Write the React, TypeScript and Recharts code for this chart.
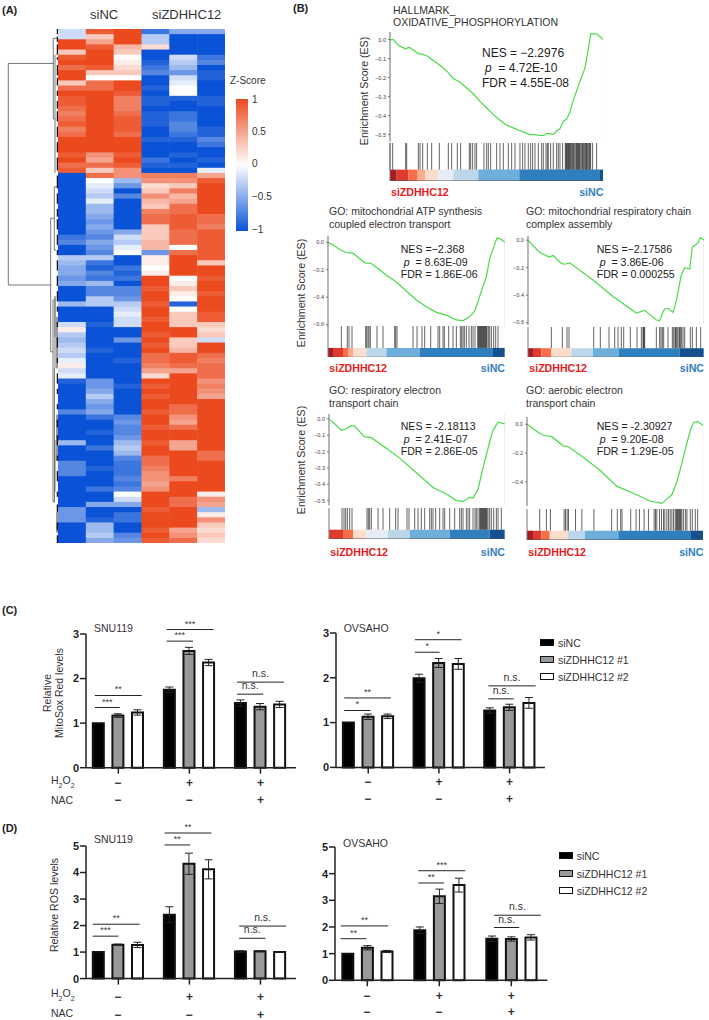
import { BarChart, Bar, XAxis, YAxis, ErrorBar, ReferenceLine, ReferenceArea, LineChart, Line, CartesianGrid } from "recharts";

const FONT = '"Liberation Sans", Arial, sans-serif';

// ---------- (A) heatmap, z-score x 10, top row first ----------
const heatNC1 = [-2,-2,10,10,3,9,10,8,10,10,3,8,10,9,9,8,7,8,9,7,8,10,10,10,9,10,8,9,
  -10,-10,-10,-10,-10,-10,-10,-10,-10,-10,-10,-10,-8,-7,-10,-10,-3,-4,-5,-5,-6,-5,-10,-10,-10,-4,-10,-10,-10,-2,1,-3,-4,-3,-2,-3,-1,1,-2,-1,-9,-10,-10,-10,-10,-10,-7,-10,-10,-10,-10,-10,-4,-10,-10,-10,-7,-7,-7,-10,-10,-10,-10,-10,-10,-6,-6,-6,-10,-10,-10,-10];
const heatNC2 = [9,3,5,9,10,10,10,9,3,0,8,8,10,10,10,10,10,10,10,10,10,10,10,10,6,5,8,3,
  8,0,-1,-2,-3,-1,-4,-4,-5,-6,-5,-6,-7,-5,-6,-7,-3,-8,-9,-7,-8,-4,-7,-7,-3,-3,-10,-10,-10,-9,-10,-10,-10,-10,-9,-10,-10,-10,-10,-10,-6,-6,-5,-3,-5,-6,-5,-8,-10,-10,-9,-10,-10,-8,-10,-10,-10,-9,-10,-10,-10,-8,-10,-10,-5,-10,-10,-9,-4,-4,-3,-5];
const heatNC3 = [10,10,10,4,3,0,1,2,3,0,10,10,9,7,7,7,8,9,9,9,8,10,10,10,9,10,9,6,
  6,-4,-6,-10,-7,-10,-10,-10,-10,-10,-10,-5,-2,-3,-1,0,-10,-10,-8,-9,-8,-10,-7,-7,-6,-3,-2,-1,-2,-2,-10,-10,-6,-10,-10,-10,-9,-10,-10,-10,-10,-9,-10,-10,-10,-10,-10,-7,-6,-7,-7,-6,-4,-3,-4,-7,-8,-8,-8,-7,-8,-7,0,-2,-5,-10,-8,-8,-10,-10,-7,-6];
const heatZ1 = [-8,-3,-3,2,-10,-10,-9,-8,-7,-10,-10,-9,-10,-9,-9,-10,-9,-9,-9,-10,-10,-9,-10,-10,-10,-8,-9,-10,
  7,6,2,3,6,4,3,7,8,8,3,3,3,4,4,-6,1,1,0,1,10,10,9,10,10,9,10,10,9,10,10,9,10,9,10,8,8,7,5,2,10,9,10,9,10,10,9,10,10,9,10,10,9,10,10,8,8,7,6,6,5,6,10,10,10,9,10,10,10,9,10,9];
const heatZ2 = [-5,-10,-10,-10,-10,-2,-3,-4,-6,-2,-1,0,0,-9,-10,-10,-8,-8,-7,-7,-8,-9,-10,-10,-9,-10,-9,-10,
  7,6,3,7,4,5,8,8,9,9,9,8,8,8,0,8,10,10,10,10,0,1,3,1,0,-9,0,3,3,3,10,10,3,3,4,9,9,8,5,10,10,10,10,10,10,8,8,6,5,8,10,10,5,5,10,10,10,10,10,7,10,10,10,8,8,10,10,10,10,5,6,8];
const heatZ3 = [-5,-10,-10,-10,-10,-8,-7,-10,-9,-9,-10,-10,-10,-9,-9,-10,-10,-10,-10,-9,-9,-7,-8,-10,-10,-9,-10,-1,
  5,9,10,10,10,10,10,10,8,8,7,9,9,9,9,9,9,3,10,10,9,10,10,9,10,10,10,9,9,3,2,3,-2,10,10,8,7,8,8,8,6,7,6,5,10,10,10,10,10,10,10,10,10,10,8,8,10,10,10,10,10,10,1,6,5,-4,1,6,3,2,3,2];
const heatColumns = [heatNC1, heatNC2, heatNC3, heatZ1, heatZ2, heatZ3];
const heatRows = heatNC1.map((_, row) => {
  const r: any = { row };
  heatColumns.forEach((col, c) => {
    r[`u${c}`] = 1;
    r[`z${c}`] = col[row] / 10;
  });
  return r;
});
const zLabels = ["1", "0.5", "0", "−0.5", "−1"];

// dendrogram pieces: [depth from, row from, depth to, row to]
const dendroLines = [
  [8.3, 6.7, 8.3, 49.8], [8.3, 6.7, 53.3, 6.7], [8.3, 49.8, 50.7, 49.8],
  [53.3, 1.8, 53.3, 17.5], [53.3, 1.8, 57, 1.8], [53.3, 17.5, 55, 17.5],
  [55, 5, 55, 30 - 2], [50.7, 36.8, 50.7, 62.8], [50.7, 36.8, 54.3, 36.8], [50.7, 62.8, 53, 62.8],
  [54.3, 30.7, 54.3, 43], [54.3, 30.7, 57, 30.7], [54.3, 43, 56, 43],
  [53, 52.7, 53, 62.8], [53, 52.7, 56, 52.7], [53, 62.8, 53, 92], [53, 92, 55, 92],
  [55, 60, 55, 66], [55, 80, 55, 90], [54.5, 66, 54.5, 92], [56.5, 56, 56.5, 66],
];
const dendroGrey = [[57, 56, 57, 66], [57, 75, 57, 84], [57, 94, 57, 98], [55, 52, 55, 60]];
const leafSpans = [[0, 1], [1.5, 2.5], [3, 5], [5.5, 6], [7, 9], [9.5, 11], [12, 13], [14, 15.5], [16, 18], [19, 21], [22, 24], [25, 27.5],
  [28.5, 31], [32, 34], [35, 36.5], [37, 39], [40, 42], [43, 44], [45, 47], [48, 50], [51, 53], [54, 55], [57, 58], [60, 62], [64, 65], [67, 69],
  [70, 71], [73, 74], [76, 77.5], [79, 81], [83, 84], [86, 88], [90, 91], [92.5, 94], [96, 97.5], [98.5, 100]];

// ---------- (B) GSEA panels, x is gene rank ----------
const bandColors = ["#A51C24", "#DE3A2E", "#F96E4A", "#FCAD8F", "#FBDDCB", "#E6EDF6", "#BCD6EA", "#6EAEDB", "#2F7EBE", "#16518F"];

const hallmarkRanks = [150,160,175,197,207,220,235,245,260,280,300,320,340,360,380,400,420,440,460,480,500,520,540,555,570,585,600,612,620,630,640,650,660,670,680,690,700,710,720,735,745,752,770,780,790];
const hallmarkEs = [0,0,-0.03,-0.05,-0.04,-0.055,-0.075,-0.075,-0.085,-0.11,-0.135,-0.165,-0.205,-0.225,-0.255,-0.285,-0.325,-0.36,-0.395,-0.425,-0.45,-0.465,-0.48,-0.49,-0.5,-0.5,-0.505,-0.505,-0.495,-0.495,-0.5,-0.48,-0.47,-0.43,-0.42,-0.38,-0.32,-0.27,-0.22,-0.15,-0.05,0.03,0.03,0.015,0];
const hallmarkHits = [150,158,197,200,235,240,248,262,275,298,325,335,352,362,388,392,398,405,410,432,440,445,452,470,480,490,505,515,525,540,548,555,565,572,578,585,595,605,610,618,622,625,632,640,650,655,660,668,676,678,680,682,684,686,688,690,692,695,698,700,702,705,708,710,712,714,716,718,720,723,726,728,730,733,736,738,740,742,745,748,750,752,758,770];
const hallmarkBand = [150,170,205,233,255,295,340,415,538,780,790];

const atpRanks = [115,130,155,170,190,205,225,245,270,290,320,350,380,410,440,470,500,520,535,545,555,565,580,590,600,610,622,632,645];
const atpEs = [0,-0.02,-0.06,-0.075,-0.08,-0.11,-0.15,-0.155,-0.2,-0.24,-0.29,-0.355,-0.42,-0.47,-0.51,-0.53,-0.565,-0.57,-0.55,-0.53,-0.5,-0.43,-0.32,-0.25,-0.12,-0.05,0.03,0.025,0];
const atpHits = [155,173,178,187,228,231,235,238,242,262,280,315,318,322,370,382,397,405,423,445,450,460,464,477,490,500,512,516,520,524,530,538,545,550,556,564,566,568,570,572,574,576,578,580,582,584,586,588,590,592,596,600,605,612,618,625];
const atpBand = [115,130,160,175,190,230,230,290,390,610,645];

const assemblyRanks = [85,120,150,160,185,195,210,280,340,410,435,470,480,490,495,505,520,530,545,555,570,578,590,595,602,612];
const assemblyEs = [0,-0.09,-0.125,-0.11,-0.17,-0.175,-0.165,-0.29,-0.41,-0.53,-0.51,-0.58,-0.585,-0.52,-0.5,-0.495,-0.525,-0.44,-0.25,-0.2,-0.21,-0.05,-0.03,-0.02,0.02,0];
const assemblyHits = [155,188,202,208,282,302,328,345,355,365,372,392,412,425,430,432,433,435,470,480,484,488,492,505,518,522,526,528,530,534,538,540,542,546,550,555,572,578,590,603];
const assemblyBand = [85,100,125,155,155,215,215,280,358,540,612];

const respiratoryRanks = [118,135,155,170,185,195,225,245,290,330,380,430,470,500,520,540,550,565,580,600,610,625,645];
const respiratoryEs = [0,-0.03,-0.07,-0.06,-0.04,-0.045,-0.11,-0.115,-0.18,-0.24,-0.33,-0.42,-0.46,-0.5,-0.505,-0.48,-0.485,-0.43,-0.3,-0.14,-0.07,-0.02,-0.03];
const respiratoryHits = [157,163,168,173,180,187,232,236,240,245,265,280,300,318,325,352,358,375,385,395,405,420,425,430,438,450,460,465,480,495,510,515,520,530,535,540,550,556,560,565,570,572,574,576,578,580,582,584,586,588,590,592,595,600,605,612,620,625,635];
const respiratoryBand = [118,118,160,190,190,230,295,360,480,600,645];

const aerobicRanks = [82,100,120,135,155,190,205,250,300,350,410,450,465,485,500,515,530,545,560,572,580,592,608];
const aerobicEs = [0,-0.03,-0.065,-0.08,-0.085,-0.15,-0.155,-0.23,-0.32,-0.43,-0.49,-0.535,-0.54,-0.55,-0.52,-0.49,-0.4,-0.27,-0.13,-0.03,0.01,0.02,-0.01];
const aerobicHits = [120,140,152,193,197,202,206,227,246,282,335,352,362,366,392,408,418,432,445,462,466,470,478,484,490,494,500,505,510,515,520,525,528,530,532,535,538,540,542,545,550,556,560,570,576,585,592];
const aerobicBand = [82,100,125,150,150,205,205,255,355,570,610];

const gseaPanels = [
  { title: ["HALLMARK_", "OXIDATIVE_PHOSPHORYLATION"], nes: "NES = −2.2976", p: "= 4.72E-10", fdr: "FDR = 4.55E-08", ranks: hallmarkRanks, es: hallmarkEs, hits: hallmarkHits, band: hallmarkBand,
    yTicks: [0, -0.1, -0.2, -0.3, -0.4, -0.5], grid: [255, 360, 465, 570, 675], domainY: [-0.537, 0.04],
    left: 390, right: 603.3, top: 32.4, bottom: 142, rugTop: 143, rugBottom: 181, nameY: 192, titleX: 393, titleY: [10, 22], statX: 482, statY: [53, 68, 83], statSize: 12, yLabel: { x: 364, y: 90.7 } },
  { title: ["GO: mitochondrial ATP synthesis", "coupled electron transport"], nes: "NES =−2.368", p: "= 8.63E-09", fdr: "FDR = 1.86E-06", ranks: atpRanks, es: atpEs, hits: atpHits, band: atpBand,
    yTicks: [0, -0.2, -0.4, -0.6], grid: [290, 460], domainY: [-0.62, 0.045],
    left: 328.3, right: 505, top: 235.5, bottom: 327, rugTop: 325.7, rugBottom: 357, nameY: 368, titleX: 329, titleY: [211, 224], statX: 400.7, statY: [249, 262, 274], statSize: 10.6, yLabel: { x: 301, y: 293 } },
  { title: ["GO: mitochondrial respiratory chain", "complex assembly"], nes: "NES =−2.17586", p: "= 3.86E-06", fdr: "FDR = 0.000255", ranks: assemblyRanks, es: assemblyEs, hits: assemblyHits, band: assemblyBand,
    yTicks: [0, -0.2, -0.4, -0.6], grid: [170, 255, 430], domainY: [-0.62, 0.03],
    left: 528.3, right: 704, top: 235.9, bottom: 325.4, rugTop: 326.7, rugBottom: 357, nameY: 368, titleX: 526, titleY: [211, 224], statX: 596.7, statY: [249, 262, 274], statSize: 10.6, yLabel: null },
  { title: ["GO: respiratory electron", "transport chain"], nes: "NES = -2.18113", p: "= 2.41E-07", fdr: "FDR = 2.86E-05", ranks: respiratoryRanks, es: respiratoryEs, hits: respiratoryHits, band: respiratoryBand,
    yTicks: [0, -0.1, -0.2, -0.3, -0.4, -0.5], grid: [290, 465], domainY: [-0.53, 0.03],
    left: 329.3, right: 505, top: 414.4, bottom: 505.9, rugTop: 508, rugBottom: 539, nameY: 552, titleX: 329, titleY: [390, 403], statX: 400.7, statY: [426, 438.7, 451.3], statSize: 10.6, yLabel: { x: 301, y: 460 } },
  { title: ["GO: aerobic electron", "transport chain"], nes: "NES = -2.30927", p: "= 9.20E-08", fdr: "FDR = 1.29E-05", ranks: aerobicRanks, es: aerobicEs, hits: aerobicHits, band: aerobicBand,
    yTicks: [0, -0.2, -0.4], grid: [255, 430], domainY: [-0.57, 0.05],
    left: 527.3, right: 703.3, top: 416.5, bottom: 505.8, rugTop: 509, rugBottom: 540, nameY: 552, titleX: 526, titleY: [390, 403], statX: 596.7, statY: [426, 438.7, 451.3], statSize: 10.6, yLabel: null },
];

// ---------- (C) (D) bars ----------
const groups = ["a", "b", "c"];
const groupSlots = [0.5, 1.5, 2.5];
const h2o2Row = ["−", "+", "+"];
const nacRow = ["−", "−", "+"];
const legendNames = ["siNC", "siZDHHC12 #1", "siZDHHC12 #2"];
const barFills = ["#000000", "#999999", "#FFFFFF"];

const snuMitoNC = [1, 1.75, 1.45], snuMito1 = [1.17, 2.62, 1.37], snuMito2 = [1.24, 2.36, 1.42];
const snuMitoErrNC = [0, 0.06, 0.07], snuMitoErr1 = [0.04, 0.08, 0.07], snuMitoErr2 = [0.06, 0.07, 0.07];
const ovsMitoNC = [1, 1.99, 1.27], ovsMito1 = [1.13, 2.33, 1.34], ovsMito2 = [1.14, 2.31, 1.44];
const ovsMitoErrNC = [0, 0.09, 0.06], ovsMitoErr1 = [0.06, 0.1, 0.07], ovsMitoErr2 = [0.05, 0.12, 0.12];
const snuRosNC = [1, 2.41, 1.02], snuRos1 = [1.28, 4.33, 1.03], snuRos2 = [1.27, 4.12, 1];
const snuRosErrNC = [0, 0.3, 0.03], snuRosErr1 = [0.02, 0.4, 0.02], snuRosErr2 = [0.1, 0.36, 0.01];
const ovsRosNC = [1, 1.88, 1.56], ovsRos1 = [1.22, 3.15, 1.55], ovsRos2 = [1.08, 3.57, 1.61];
const ovsRosErrNC = [0, 0.12, 0.1], ovsRosErr1 = [0.08, 0.27, 0.08], ovsRosErr2 = [0.04, 0.26, 0.1];

// significance bars: [from, to, level, label], x in group units
const snuMitoSig: any[] = [[0.17, 0.52, 1.35, "***"], [0.17, 0.83, 1.62, "**"], [1.18, 1.55, 2.84, "***"], [1.18, 1.84, 3.1, "***"], [2.17, 2.54, 1.65, "n.s."], [2.17, 2.83, 1.92, "n.s."]];
const ovsMitoSig: any[] = [[0.16, 0.53, 1.27, "*"], [0.16, 0.82, 1.55, "**"], [1.16, 1.51, 2.57, "*"], [1.16, 1.82, 2.85, "*"], [2.2, 2.56, 1.53, "n.s."], [2.2, 2.87, 1.82, "n.s."]];
const snuRosSig: any[] = [[0.14, 0.5, 1.6, "***"], [0.14, 0.8, 2.05, "**"], [1.15, 1.51, 5.04, "**"], [1.15, 1.81, 5.49, "**"], [2.2, 2.57, 1.52, "n.s."], [2.2, 2.86, 1.98, "n.s."]];
const ovsRosSig: any[] = [[0.13, 0.49, 1.56, "**"], [0.13, 0.79, 2.04, "**"], [1.21, 1.565, 3.65, "**"], [1.21, 1.86, 4.11, "***"], [2.26, 2.61, 1.98, "n.s."], [2.26, 2.91, 2.44, "n.s."]];

const zColor = (z: number) => {
  const hot = [235, 74, 30];
  const cold = [10, 82, 214];
  const end = z >= 0 ? hot : cold;
  const t = Math.abs(z);
  const c = end.map((v) => Math.round(255 + (v - 255) * t));
  return `rgb(${c[0]},${c[1]},${c[2]})`;
};

const Txt = ({ x, y, size = 10.5, color = "#333", weight = 400, anchor = "left", rotate, children }: any) => (
  <div
    style={{
      position: "absolute",
      left: x,
      top: y,
      fontFamily: FONT,
      fontSize: size,
      color,
      fontWeight: weight,
      lineHeight: 1,
      whiteSpace: "nowrap",
      transform: rotate
        ? `translate(-50%,-50%) rotate(${rotate}deg)`
        : anchor === "right"
        ? "translate(-100%,-50%)"
        : anchor === "center"
        ? "translate(-50%,-50%)"
        : "translateY(-50%)",
    }}
  >
    {children}
  </div>
);

const HeatCell = (props: any) => {
  const { x, y, width, height, payload, column } = props;
  // a little overlap so rounding leaves no white seams between rows
  return <rect x={x} y={y} width={width + 0.5} height={height + 1} fill={zColor(payload[`z${column}`])} />;
};

const Heatmap = () => (
  <div style={{ position: "absolute", left: 58, top: 29 }}>
    <BarChart layout="vertical" width={167} height={514} data={heatRows} margin={{ top: 0, right: 0, bottom: 0, left: 0 }} barCategoryGap={0}>
      <XAxis type="number" domain={[0, 6]} hide />
      <YAxis type="category" dataKey="row" hide />
      {heatColumns.map((_, c) => (
        <Bar key={c} dataKey={`u${c}`} stackId="h" isAnimationActive={false} shape={(p: any) => <HeatCell {...p} column={c} />} />
      ))}
    </BarChart>
  </div>
);

const dendroRows = [{ d: 0, r: 0 }, { d: 58, r: 100 }];
const Dendrogram = () => (
  <div style={{ position: "absolute", left: 0, top: 29 }}>
    <LineChart width={60} height={514} data={dendroRows} margin={{ top: 0, right: 2, bottom: 0, left: 0 }}>
      <XAxis type="number" dataKey="d" domain={[0, 58]} hide />
      <YAxis type="number" domain={[0, 100]} reversed hide />
      <Line dataKey="r" stroke="none" dot={false} isAnimationActive={false} />
      {dendroLines.map((s, i) => (
        <ReferenceLine key={i} ifOverflow="visible" stroke="#555" strokeWidth={0.8} segment={[{ x: s[0], y: s[1] }, { x: s[2], y: s[3] }]} />
      ))}
      {dendroGrey.map((s, i) => (
        <ReferenceLine key={`g${i}`} ifOverflow="visible" stroke="#999" strokeWidth={2} segment={[{ x: s[0], y: s[1] }, { x: s[2], y: s[3] }]} />
      ))}
      {leafSpans.map((s, i) => (
        <ReferenceLine key={`l${i}`} ifOverflow="visible" stroke="#111" strokeWidth={1.5} segment={[{ x: 57.5, y: s[0] }, { x: 57.5, y: s[1] }]} />
      ))}
    </LineChart>
  </div>
);

const esTick = (v: number) => (v === 0 ? "0.0" : `−${Math.abs(v).toFixed(1)}`);

const GseaPanel = ({ cfg }: any) => {
  const points = cfg.ranks.map((rank: number, i: number) => ({ rank, es: cfg.es[i] }));
  const w = cfg.right - cfg.left;
  const gutter = 25;
  const xDomain = [cfg.ranks[0], cfg.ranks[cfg.ranks.length - 1]];
  const share = 0.3;
  return (
    <>
      {cfg.title.map((t: string, i: number) => (
        <Txt key={i} x={cfg.titleX} y={cfg.titleY[i]}>{t}</Txt>
      ))}
      {cfg.yLabel && <Txt x={cfg.yLabel.x} y={cfg.yLabel.y} rotate={-90} size={10.6}>Enrichment Score (ES)</Txt>}
      <div style={{ position: "absolute", left: cfg.left - gutter, top: cfg.top }}>
        <LineChart width={w + gutter} height={cfg.bottom - cfg.top} data={points} margin={{ top: 0, right: 0, bottom: 0, left: 0 }}>
          <CartesianGrid horizontal={false} stroke="#e9e9e9" />
          <XAxis type="number" dataKey="rank" domain={xDomain} ticks={cfg.grid} tick={false} tickLine={false} axisLine={false} height={0} />
          <YAxis width={gutter} domain={cfg.domainY} allowDataOverflow ticks={cfg.yTicks} tickFormatter={esTick} tickSize={2} tick={{ fontSize: 5.6, fill: "#444", fontFamily: FONT }} stroke="#777" />
          <Line dataKey="es" stroke="#4ADB4A" strokeWidth={1.2} dot={false} isAnimationActive={false} />
        </LineChart>
      </div>
      <div style={{ position: "absolute", left: cfg.left - gutter, top: cfg.rugTop }}>
        <LineChart width={w + gutter} height={cfg.rugBottom - cfg.rugTop} data={points} margin={{ top: 0, right: 0, bottom: 0, left: 0 }}>
          <XAxis type="number" dataKey="rank" domain={xDomain} tick={false} tickLine={false} axisLine={false} height={0} />
          <YAxis width={gutter} domain={[0, 1]} allowDataOverflow tick={false} tickLine={false} stroke="#777" />
          <Line dataKey="rugBase" stroke="none" dot={false} isAnimationActive={false} />
          {cfg.hits.map((h: number, i: number) => (
            <ReferenceLine key={i} ifOverflow="visible" stroke="#111" strokeOpacity={0.65} strokeWidth={1} segment={[{ x: h, y: share }, { x: h, y: 1 }]} />
          ))}
          {bandColors.map((c, i) => (
            <ReferenceArea key={c} ifOverflow="visible" x1={cfg.band[i]} x2={cfg.band[i + 1]} y1={0} y2={share} fill={c} fillOpacity={1} stroke="none" />
          ))}
          <ReferenceLine ifOverflow="visible" stroke="#555" segment={[{ x: xDomain[0], y: 0 }, { x: xDomain[1], y: 0 }]} />
        </LineChart>
      </div>
      <Txt x={cfg.left + 1} y={cfg.nameY} color="#E41A1C" weight={700} size={10.6}>siZDHHC12</Txt>
      <Txt x={cfg.right} y={cfg.nameY} color="#2F7EBE" weight={700} size={10.6} anchor="right">siNC</Txt>
      <Txt x={cfg.statX} y={cfg.statY[0]} size={cfg.statSize} color="#222">{cfg.nes}</Txt>
      <Txt x={cfg.statX + 3} y={cfg.statY[1]} size={cfg.statSize} color="#222"><i>p</i>&nbsp; {cfg.p}</Txt>
      <Txt x={cfg.statX} y={cfg.statY[2]} size={cfg.statSize} color="#222">{cfg.fdr}</Txt>
    </>
  );
};

const SignTick = ({ x, y, payload, row1, row2 }: any) => {
  const i = groups.indexOf(payload.value);
  const style = { fontSize: 12, fontWeight: 700, fill: "#333", fontFamily: FONT };
  return (
    <g>
      <text x={x} y={y + row1} textAnchor="middle" dominantBaseline="central" style={style}>{h2o2Row[i]}</text>
      <text x={x} y={y + row2} textAnchor="middle" dominantBaseline="central" style={style}>{nacRow[i]}</text>
    </g>
  );
};

const GroupedBars = ({ nc, s1, s2, errNc, err1, err2, sig, left, axisX, right, y0, yTop, maxY, yTicks, row1, row2, name, nameY }: any) => {
  const table = groups.map((group, i) => ({
    group, slot: groupSlots[i], nc: nc[i], s1: s1[i], s2: s2[i], errNc: errNc[i], err1: err1[i], err2: err2[i],
  }));
  const gutter = 32;
  const headroom = 34;
  const below = 48;
  const padLeft = left - axisX;
  return (
    <>
      <Txt x={axisX + 8} y={nameY} color="#333">{name}</Txt>
      <div style={{ position: "absolute", left: axisX - gutter, top: yTop - headroom }}>
        <BarChart
          width={gutter + right - axisX + 4}
          height={headroom + (y0 - yTop) + below}
          data={table}
          margin={{ top: headroom, right: 4, bottom: 0, left: 0 }}
          barSize={11}
          barGap={8.6}
          style={{ overflow: "visible" }}
        >
          <XAxis
            xAxisId="cat"
            dataKey="group"
            height={below}
            interval={0}
            padding={{ left: padLeft, right: 0 }}
            tickSize={6}
            tickMargin={0}
            axisLine={{ stroke: "#222", strokeWidth: 1.5 }}
            tickLine={{ stroke: "#222", strokeWidth: 1.5 }}
            tick={<SignTick row1={row1} row2={row2} />}
          />
          <XAxis xAxisId="sig" type="number" dataKey="slot" domain={[0, 3]} allowDataOverflow padding={{ left: padLeft, right: 0 }} hide />
          <YAxis
            width={gutter}
            domain={[0, maxY]}
            ticks={yTicks}
            tickSize={6}
            tickMargin={1}
            axisLine={{ stroke: "#222", strokeWidth: 1.5 }}
            tickLine={{ stroke: "#222", strokeWidth: 1.5 }}
            tick={{ fontSize: 11, fontWeight: 700, fill: "#222", fontFamily: FONT }}
          />
          <Bar xAxisId="cat" dataKey="nc" fill={barFills[0]} stroke="#111" strokeWidth={2} isAnimationActive={false}>
            <ErrorBar dataKey="errNc" width={4} strokeWidth={1} stroke="#222" />
          </Bar>
          <Bar xAxisId="cat" dataKey="s1" fill={barFills[1]} stroke="#111" strokeWidth={2} isAnimationActive={false}>
            <ErrorBar dataKey="err1" width={4} strokeWidth={1} stroke="#222" />
          </Bar>
          <Bar xAxisId="cat" dataKey="s2" fill={barFills[2]} stroke="#111" strokeWidth={2} isAnimationActive={false}>
            <ErrorBar dataKey="err2" width={4} strokeWidth={1} stroke="#222" />
          </Bar>
          {sig.map((s: any[], i: number) => (
            <ReferenceLine
              key={i}
              xAxisId="sig"
              ifOverflow="visible"
              stroke="#222"
              strokeWidth={1}
              segment={[{ x: s[0], y: s[2] }, { x: s[1], y: s[2] }]}
              label={{ value: s[3], position: "top", fontSize: s[3] === "n.s." ? 10.5 : 9, fill: "#333", fontFamily: FONT, dy: s[3] === "n.s." ? 0 : 2 }}
            />
          ))}
        </BarChart>
      </div>
    </>
  );
};

const BarLegend = ({ x, ys }: any) => (
  <>
    {legendNames.map((name, i) => (
      <div key={name}>
        <div style={{ position: "absolute", left: x, top: ys[i] - 4, width: 12, height: 5, background: barFills[i], border: "1.5px solid #111" }} />
        <Txt x={x + 18} y={ys[i]} color="#333">{name}</Txt>
      </div>
    ))}
  </>
);

const RowLabels = ({ y1, y2 }: any) => (
  <>
    <Txt x={51} y={y1} color="#333">H<sub style={{ fontSize: 7 }}>2</sub>O<sub style={{ fontSize: 7 }}>2</sub></Txt>
    <Txt x={51} y={y2} color="#333">NAC</Txt>
  </>
);

export default function App() {
  return (
    <div style={{ position: "absolute", left: 0, top: 0, width: 709, height: 1020, background: "#fff", overflow: "hidden" }}>
      <Txt x={2} y={10} size={11} weight={700} color="#222">(A)</Txt>
      <Txt x={293} y={8} size={11} weight={700} color="#222">(B)</Txt>
      <Txt x={2} y={610} size={11} weight={700} color="#222">(C)</Txt>
      <Txt x={2} y={828} size={11} weight={700} color="#222">(D)</Txt>

      <Txt x={90} y={14} size={13} color="#333">siNC</Txt>
      <Txt x={152} y={14} size={13} color="#333">siZDHHC12</Txt>
      <Dendrogram />
      <Heatmap />
      <Txt x={230} y={81} size={10} color="#333">Z-Score</Txt>
      <div style={{ position: "absolute", left: 236, top: 99, width: 12, height: 132, background: `linear-gradient(${zColor(1)}, ${zColor(0.5)}, ${zColor(0)}, ${zColor(-0.5)}, ${zColor(-1)})` }} />
      {zLabels.map((t, i) => (
        <Txt key={t} x={252} y={[100, 132, 164, 197, 230][i]} size={10} color="#333">{t}</Txt>
      ))}

      {gseaPanels.map((cfg, i) => (
        <GseaPanel key={i} cfg={cfg} />
      ))}

      <Txt x={46.7} y={693} rotate={-90}>Relative</Txt>
      <Txt x={59} y={693} rotate={-90}>MitoSox Red levels</Txt>
      <RowLabels y1={782} y2={800} />
      <GroupedBars nc={snuMitoNC} s1={snuMito1} s2={snuMito2} errNc={snuMitoErrNC} err1={snuMitoErr1} err2={snuMitoErr2} sig={snuMitoSig}
        left={82.8} axisX={86} right={296} y0={767.7} yTop={634} maxY={3} yTicks={[0, 1, 2, 3]} row1={9} row2={26} name="SNU119" nameY={628} />
      <GroupedBars nc={ovsMitoNC} s1={ovsMito1} s2={ovsMito2} errNc={ovsMitoErrNC} err1={ovsMitoErr1} err2={ovsMitoErr2} sig={ovsMitoSig}
        left={332.6} axisX={335.7} right={544.6} y0={767.7} yTop={633.3} maxY={3} yTicks={[0, 1, 2, 3]} row1={9} row2={26} name="OVSAHO" nameY={628} />
      <BarLegend x={540} ys={[642.5, 659.5, 676.7]} />

      <Txt x={54} y={905} rotate={-90} size={10.6}>Relative ROS levels</Txt>
      <RowLabels y1={995} y2={1013} />
      <GroupedBars nc={snuRosNC} s1={snuRos1} s2={snuRos2} errNc={snuRosErrNC} err1={snuRosErr1} err2={snuRosErr2} sig={snuRosSig}
        left={82.8} axisX={86} right={296} y0={978.3} yTop={845.7} maxY={5} yTicks={[0, 1, 2, 3, 4, 5]} row1={12} row2={30} name="SNU119" nameY={839} />
      <GroupedBars nc={ovsRosNC} s1={ovsRos1} s2={ovsRos2} errNc={ovsRosErrNC} err1={ovsRosErr1} err2={ovsRosErr2} sig={ovsRosSig}
        left={331.3} axisX={335} right={547.3} y0={980} yTop={846.7} maxY={5} yTicks={[0, 1, 2, 3, 4, 5]} row1={10} row2={26} name="OVSAHO" nameY={842.5} />
      <BarLegend x={558.7} ys={[856, 873.7, 891]} />
    </div>
  );
}
